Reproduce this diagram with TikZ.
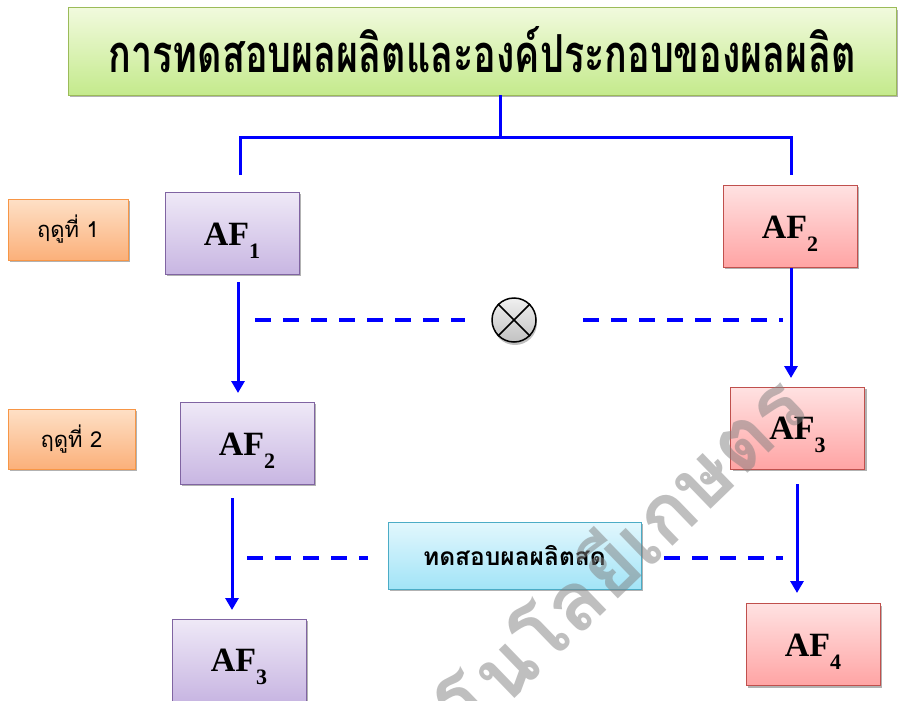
\documentclass[tikz,border=0pt]{standalone}
\usepackage{fontspec}
\setmainfont{Liberation Serif}
\newfontfamily\thaifont[Script=Thai]{Loma}
\usetikzlibrary{shadows,arrows.meta}
\definecolor{grT}{HTML}{F1FADD}
\definecolor{grB}{HTML}{C4EA8C}
\definecolor{grD}{HTML}{9BBB59}
\definecolor{orT}{HTML}{FEE0C6}
\definecolor{orB}{HTML}{FBB07A}
\definecolor{orD}{HTML}{F79646}
\definecolor{puT}{HTML}{EFE9F7}
\definecolor{puB}{HTML}{C8B6E2}
\definecolor{puD}{HTML}{8064A2}
\definecolor{reT}{HTML}{FFE2E2}
\definecolor{reB}{HTML}{FFA4A4}
\definecolor{reD}{HTML}{C0504D}
\definecolor{cyT}{HTML}{E2F7FD}
\definecolor{cyB}{HTML}{A2E4F7}
\definecolor{cyD}{HTML}{4BACC6}
\definecolor{lnB}{HTML}{0000FF}
\newcommand\aflabel[1]{\fontsize{34}{34}\selectfont\bfseries\rule{0pt}{37pt}AF\raisebox{-13pt}{\fontsize{22}{22}\selectfont #1}}
\begin{document}
\begin{tikzpicture}[x=1pt,y=-1pt,
  shbox/.style={inner sep=0pt, outer sep=0pt, line width=1pt,
    drop shadow={shadow xshift=2pt,shadow yshift=-2pt,opacity=0.3,fill=black}},
  titlebox/.style={shbox, draw=grD, top color=grT, bottom color=grB},
  seasonbox/.style={shbox, draw=orD, top color=orT, bottom color=orB},
  afpurple/.style={shbox, draw=puD, top color=puT, bottom color=puB, minimum width=134pt, minimum height=82pt},
  afred/.style={shbox, draw=reD, top color=reT, bottom color=reB, minimum width=134pt, minimum height=82pt},
  testbox/.style={shbox, draw=cyD, top color=cyT, bottom color=cyB},
  treeline/.style={draw=lnB, line width=3pt},
  arrowline/.style={draw=lnB, line width=3pt, -{Triangle[length=12pt,width=13pt]}},
  dashline/.style={draw=lnB, line width=3.5pt, dash pattern=on 16pt off 12pt}
]
\useasboundingbox (0,0) rectangle (899,701);
\clip (0,0) rectangle (899,701);
\fill[white] (0,0) rectangle (899,701);

% title
\node[titlebox, minimum width=828pt, minimum height=87pt] (title) at (482,51.5)
  {\raisebox{5pt}{\resizebox{747pt}{46pt}{\thaifont\bfseries การทดสอบผลผลิตและองค์ประกอบของผลผลิต}}};

% tree connector
\coordinate (tj) at (500,137);
\coordinate (tl) at (240,175);
\coordinate (tr) at (791,175);
\draw[treeline] (title.south -| tj) -- (tj);
\draw[treeline] (tl) |- (tj) -| (tr);

% season labels
\node[seasonbox, minimum width=120pt, minimum height=61pt] (s1) at (68,229.5)
  {\thaifont\fontsize{22}{22}\selectfont ฤดูที่ 1};
\node[seasonbox, minimum width=127pt, minimum height=60pt] (s2) at (71.5,439)
  {\thaifont\fontsize{22}{22}\selectfont ฤดูที่ 2};

% purple boxes
\node[afpurple] (p1) at (232,233) {\aflabel{1}};
\node[afpurple] (p2) at (247,443) {\aflabel{2}};
\node[afpurple] (p3) at (239,660) {\aflabel{3}};

% red boxes
\node[afred] (r2) at (790,226) {\aflabel{2}};
\node[afred] (r3) at (797.5,428) {\aflabel{3}};
\node[afred] (r4) at (813,644.5) {\aflabel{4}};

% arrows
\coordinate (a1s) at (238,282); \coordinate (a1e) at (238,393);
\coordinate (a2s) at (232,498); \coordinate (a2e) at (232,610);
\coordinate (a3s) at (791,268); \coordinate (a3e) at (791,378);
\coordinate (a4s) at (797,484); \coordinate (a4e) at (797,593);
\draw[arrowline] (a1s) -- (a1e);
\draw[arrowline] (a2s) -- (a2e);
\draw[arrowline] (a3s) -- (a3e);
\draw[arrowline] (a4s) -- (a4e);

% cross circle
\node[circle, draw=black, line width=1.5pt, minimum size=44pt, inner sep=0pt,
  top color=white!94!black, bottom color=white!76!black,
  drop shadow={shadow xshift=1pt,shadow yshift=-3pt,opacity=0.25,fill=black}] (xo) at (514,320) {};
\draw[line width=1.5pt] (xo.north west) -- (xo.south east);
\draw[line width=1.5pt] (xo.north east) -- (xo.south west);

% dashed row 1
\coordinate (d1a) at (255,320); \coordinate (d1b) at (465,320);
\coordinate (d1c) at (583,320); \coordinate (d1d) at (783,320);
\draw[dashline] (d1a) -- (d1b);
\draw[dashline] (d1c) -- (d1d);

% test box
\node[testbox, minimum width=253pt, minimum height=67pt] (test) at (514.5,555.5)
  {\thaifont\bfseries\fontsize{24.5}{24.5}\selectfont ทดสอบผลผลิตสด};

% dashed row 2
\coordinate (d2a) at (247,558); \coordinate (d2b) at (368,558);
\coordinate (d2c) at (664,558); \coordinate (d2d) at (783,558);
\draw[dashline] (d2a) -- (d2b);
\draw[dashline] (d2c) -- (d2d);

% watermark
\node[anchor=base east, rotate=44, text=black!50, opacity=0.5, inner sep=0pt] (wm) at (812,412)
  {\thaifont\bfseries\fontsize{82}{82}\selectfont คโนโลยีเกษตร};
\end{tikzpicture}
\end{document}
